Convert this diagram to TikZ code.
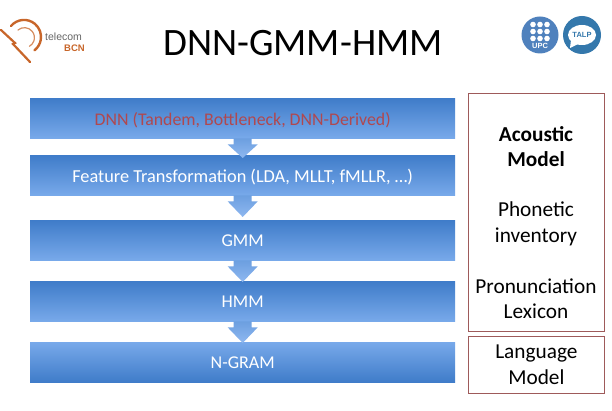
\documentclass[tikz,border=0pt]{standalone}
\usepackage{fontspec}
\setmainfont{Carlito}
\newfontfamily\logofont{Liberation Sans}
\usetikzlibrary{calc,shadows}
\definecolor{boxtop}{HTML}{3F7CC9}
\definecolor{boxbot}{HTML}{78A9EA}
\definecolor{arrtop}{HTML}{6C9FE0}
\definecolor{arrbot}{HTML}{8FB8F0}
\definecolor{frame}{HTML}{9E5A5A}
\definecolor{dnnred}{HTML}{B0484F}
\definecolor{tcorange}{HTML}{C8662A}
\definecolor{upcblue}{HTML}{4F81BD}
\definecolor{talpblue}{HTML}{3478AC}
\tikzset{
  x=1pt,y=1pt,
  layerbox/.style={minimum width=425pt,minimum height=40pt,inner sep=0pt,anchor=north west,
    top color=boxtop,bottom color=boxbot,draw=none,text=white,font=\fontsize{18}{21}\selectfont,
    general shadow={fill=black!35,shift={(0pt,-1.5pt)}}},
  sidebox/.style={draw=frame,line width=0.8pt,fill=white,anchor=north west,inner sep=0pt,align=center,
    text=black,text width=136pt,font=\fontsize{21.3}{25.5}\selectfont},
  sidetext/.style={font=\fontsize{21.3}{25.5}\selectfont,align=center,inner sep=0pt},
  blockarrow/.style={top color=arrtop,bottom color=arrbot,draw=none},
  tcarc/.style={draw=tcorange,line cap=round,fill=none},
}
\newcommand{\flowarrow}[3]{%
  \path[blockarrow] ($(#1.south)+(-9,0)$) -- ($(#1.south)+(9,0)$) -- ($(#1.south)+(9,-6)$) --
    ($(#1.south)+(15,-6)$) -- ($(#2.north)+(0,#3)$) -- ($(#1.south)+(-15,-6)$) --
    ($(#1.south)+(-9,-6)$) -- cycle;}
\newcommand{\lowered}[2]{\raisebox{-#1pt}[\height][\depth]{#2}}
\begin{document}
\begin{tikzpicture}
\useasboundingbox (0,0) rectangle (612,-411);
\fill[white] (0,0) rectangle (612,-411);
% layers
\node[layerbox,top color=boxbot,bottom color=boxtop] (ngram) at (30,-342) {\lowered{1}{N-GRAM}};
\node[layerbox] (hmm) at (30,-281) {\lowered{1}{HMM}};
\node[layerbox] (gmm) at (30,-220) {\lowered{1}{GMM}};
\node[layerbox,font=\fontsize{18.3}{21}\selectfont] (feat) at (30,-155) {\lowered{2}{Feature Transformation (LDA, MLLT, fMLLR, …)}};
\node[layerbox,text=dnnred,font=\fontsize{17.8}{21}\selectfont] (dnn) at (30,-98) {\lowered{2}{DNN (Tandem, Bottleneck, DNN-Derived)}};
\flowarrow{dnn}{feat}{-3}
\flowarrow{feat}{gmm}{3}
\flowarrow{gmm}{hmm}{-1}
\flowarrow{hmm}{ngram}{-1}
% title
\node[font=\fontsize{38.8}{44}\selectfont,text=black,inner sep=0pt] (title) at (303,-43) {DNN-GMM-HMM};
% side boxes
\node[sidebox,minimum height=238pt] (am) at (468,-93) {};
\node[sidetext,font=\fontsize{21.3}{25.5}\selectfont\bfseries] (amt) at (536,-146.5) {Acoustic\\Model};
\node[sidetext] (phon) at (536,-224) {Phonetic\\inventory};
\node[sidetext] (lex) at (536,-298.5) {Pronunciation\\Lexicon};
\node[sidebox,minimum height=57pt] (lm) at (468,-336) {Language\\Model};
% telecom logo
\draw[tcarc,line width=2.2pt] (1,-30) -- (15,-43) -- (13,-44) -- (30,-62);
\draw[tcarc,line width=2.4pt] (11,-26) arc[start angle=140,end angle=-52,radius=17];
\draw[tcarc,line width=1.2pt,draw=tcorange!75] (18,-30) arc[start angle=130,end angle=-60,radius=10];
\node[font=\logofont\fontsize{10.5}{12}\selectfont,text=black!60,inner sep=0pt,anchor=west] (tc) at (45,-37) {telecom};
\node[font=\logofont\fontsize{9.5}{11}\selectfont\bfseries,text=tcorange,inner sep=0pt,anchor=east] (bcn) at (85,-48) {BCN};
% UPC logo
\fill[upcblue] (540,-35) circle[radius=18.5];
\foreach \i in {0,1,2}\foreach \j in {0,1,2}
  \fill[white] ({533+7*\i},{-24.5-7*\j}) circle[radius=2.8];
\node[font=\logofont\fontsize{7.5}{9}\selectfont\bfseries,text=white,inner sep=0pt] (upc) at (540,-46) {UPC};
% TALP logo
\fill[talpblue] (582,-35) circle[radius=19];
\fill[white] (571,-40) -- (570,-48) -- (580,-43) -- cycle;
\fill[white] (582,-35) ellipse[x radius=14,y radius=10];
\node[font=\logofont\fontsize{7.5}{9}\selectfont\bfseries,text=talpblue,inner sep=0pt] (talp) at (582,-35) {TALP};
\end{tikzpicture}
\end{document}
